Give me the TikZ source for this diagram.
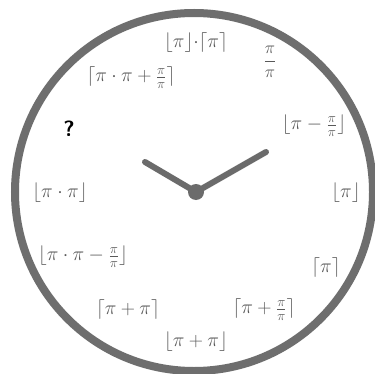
\documentclass[tikz,border=0pt]{standalone}
\usepackage{amsmath}
\usepackage{graphicx}
\newcommand\pilab[1]{\scalebox{1.14}{$#1$}}
\begin{document}
\begin{tikzpicture}[x=1pt,y=-1pt,
  lab/.style={text=black!65, font=\fontsize{17.28}{21}\selectfont, inner sep=0pt},
  hand/.style={draw=black!58, line width=6pt, line cap=round}]
\useasboundingbox (0,0) rectangle (374,374);
\fill[white] (0,0) rectangle (374,374);
\node[draw=black!57, line width=8pt, circle, minimum size=358pt, inner sep=0pt] (rim) at (194,192) {};
\coordinate (hub) at (196,192);
\coordinate (hr) at (145,162);
\coordinate (mn) at (266,152);
\draw[hand] (hub) -- (hr);
\draw[hand] (hub) -- (mn);
\fill[black!58] (hub) circle (8pt);
\node[lab] (n12) at (196,43) {\pilab{\lfloor\pi\rfloor{\cdot}\lceil\pi\rceil}};
\node[lab] (n1) at (270,62) {$\dfrac{\pi}{\pi}$};
\node[lab] (n11) at (131,78) {\pilab{\lceil\pi\cdot\pi+\frac{\pi}{\pi}\rceil}};
\node[lab] (n2) at (314,126) {\pilab{\lfloor\pi-\frac{\pi}{\pi}\rfloor}};
\node[font=\sffamily\bfseries\fontsize{22}{26}\selectfont, inner sep=0pt] (q) at (69,129) {?};
\node[lab] (n9) at (60,193) {\pilab{\lfloor\pi\cdot\pi\rfloor}};
\node[lab] (n3) at (346,193) {\pilab{\lfloor\pi\rfloor}};
\node[lab] (n8) at (83,257) {\pilab{\lfloor\pi\cdot\pi-\frac{\pi}{\pi}\rfloor}};
\node[lab] (n4) at (326,268) {\pilab{\lceil\pi\rceil}};
\node[lab] (n7) at (128,310) {\pilab{\lceil\pi+\pi\rceil}};
\node[lab] (n5) at (264,310) {\pilab{\lceil\pi+\frac{\pi}{\pi}\rceil}};
\node[lab] (n6) at (196,342) {\pilab{\lfloor\pi+\pi\rfloor}};
\end{tikzpicture}
\end{document}
